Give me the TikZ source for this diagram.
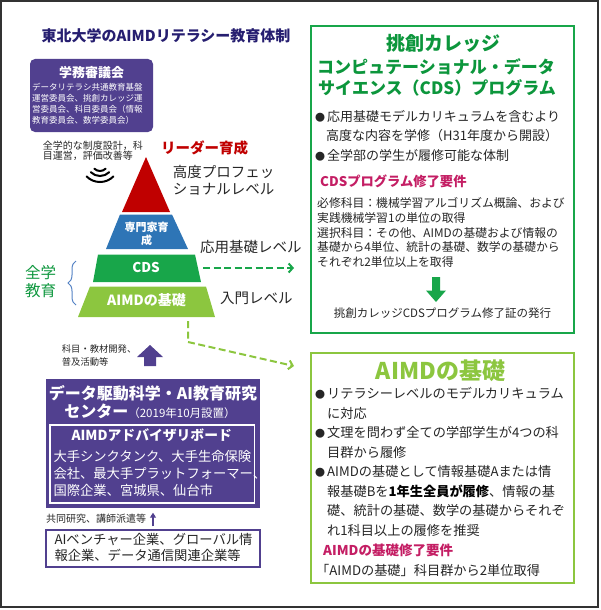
\documentclass[tikz,border=0pt]{standalone}
\usepackage{fontspec}
\setmainfont{Noto Sans CJK JP}
\usepackage{tikz}
\usetikzlibrary{positioning,calc,arrows.meta,decorations.pathreplacing}
\definecolor{aipurple}{RGB}{81,64,143}
\definecolor{ainavy}{RGB}{38,30,112}
\definecolor{aired}{RGB}{192,0,0}
\definecolor{aiblue}{RGB}{46,117,182}
\definecolor{aigreen}{RGB}{24,166,74}
\definecolor{aigreenT}{RGB}{12,150,60}
\definecolor{ailime}{RGB}{140,198,63}
\definecolor{aimagenta}{RGB}{196,30,100}
\definecolor{aitext}{RGB}{38,38,38}
\definecolor{aibrace}{RGB}{84,130,196}
\newcommand{\fsz}[2]{\fontsize{#1}{#2}\selectfont}
\newcommand{\blt}{{\fsz{10}{10}●}\hspace{2pt}}
\tikzset{
  txt/.style = {inner sep=0pt, align=left, anchor=west, text=aitext},
  ctxt/.style = {inner sep=0pt, align=center, text=aitext},
  wtxt/.style = {ctxt, text=white},
  fillbox/.style = {rectangle, fill=aipurple, inner sep=0pt},
  panel/.style = {rectangle, draw, fill=white, inner sep=0pt},
  dasharrow/.style = {line width=2pt, dash pattern=on 7pt off 3.5pt, -{Straight Barb[length=4pt,width=9pt]}},
  wave/.style = {line width=2pt, line cap=round}
}
\begin{document}
\begin{tikzpicture}[x=1pt,y=-1pt]
\useasboundingbox (0,0) rectangle (600,610);
\draw[line width=1.5pt, draw=black!80] (1,1) rectangle (598,607);

\node[ctxt, text=ainavy, font=\bfseries\fsz{15}{18}] (title) at (166,36) {東北大学のAIMDリテラシー教育体制};

\node[fillbox, rounded corners=5pt, minimum width=123pt, minimum height=73pt] (council) at (91.5,95.5) {};
\node[wtxt, font=\bfseries\fsz{13}{15}] (councilT) at (91.5,73) {学務審議会};
\node[txt, text=white, font=\fsz{8.5}{10.8}] (councilM) at (32,103.8) {データリテラシ共通教育基盤\\運営委員会、挑創カレッジ運\\営委員会、科目委員会（情報\\教育委員会、数学委員会）};
\node[txt, font=\fsz{10}{10.7}] (design) at (42.7,150.7) {全学的な制度設計，科\\目運営，評価改善等};
\foreach \r in {8,13,19}
  \draw[wave] (100,163) ++(45:\r) arc[start angle=45, end angle=135, radius=\r];

\fill[aired] (146,157) -- (170,212) -- (122,212) -- cycle;
\fill[aiblue] (120,214.5) -- (172,214.5) -- (188,249) -- (106,249) -- cycle;
\fill[aigreen] (98,254.5) -- (195,254.5) -- (201,282) -- (93,282) -- cycle;
\fill[ailime] (90,286.5) -- (206,286.5) -- (215,317) -- (78,317) -- cycle;
\node[wtxt, font=\bfseries\fsz{11}{12.3}] (expert) at (146.5,234) {専門家育\\成};
\node[wtxt, font=\bfseries\fsz{13.5}{15}] (cds) at (146,267) {CDS};
\node[wtxt, font=\bfseries\fsz{14}{16}] (basic) at (146.5,300) {AIMDの基礎};

\node[ctxt, text=aired, font=\bfseries\fsz{14.5}{16}] (leader) at (204.5,148) {リーダー育成};
\node[txt, font=\fsz{14.5}{16.7}] (prof) at (172.7,180.3) {高度プロフェッ\\ショナルレベル};
\node[txt, font=\fsz{14.5}{16}] (applied) at (200,247.5) {応用基礎レベル};
\node[txt, font=\fsz{14.5}{16}] (intro) at (220,298.5) {入門レベル};
\node[txt, text=aigreenT, font=\fsz{15.5}{18}] (allstud) at (25,282) {全学\\教育};
\draw[aibrace, line width=1pt, decorate, decoration={brace, amplitude=8pt}] (76,305) -- (76,261);

\coordinate (cdsEdge) at (203,268);
\coordinate (basicEdge) at (188,321);
\coordinate (basicTurn) at (188,342);
\coordinate (aimdTip) at (294,366);

\fill[aipurple] (144,366) -- (144,357) -- (137,357) -- (150,345) -- (163,357) -- (156,357) -- (156,366) -- cycle;
\node[txt, font=\fsz{9.3}{13}] (develop) at (61.7,355.8) {科目・教材開発、\\普及活動等};

\node[fillbox, minimum width=214pt, minimum height=129pt] (center) at (153,443.5) {};
\node[wtxt, font=\bfseries\fsz{16}{18}] (centerT) at (153,393.3) {データ駆動科学・AI教育研究};
\node[wtxt, font=\bfseries\fsz{16}{18}] (centerT2) at (150,411.7) {センター{\mdseries\fsz{11.5}{13}（2019年10月設置）}};
\node[draw=white, line width=1.5pt, minimum width=204.5pt, minimum height=78pt, inner sep=0pt] (board) at (152.25,464) {};
\node[wtxt, font=\bfseries\fsz{13.8}{15}] (boardT) at (151.7,435) {AIMDアドバイザリボード};
\node[txt, text=white, font=\fsz{13.3}{16.7}] (boardM) at (53.3,473.3) {大手シンクタンク、大手生命保険\\会社、最大手プラットフォーマー、\\国際企業、宮城県、仙台市};

\node[txt, font=\fsz{10}{12}] (joint) at (46,519) {共同研究、講師派遣等};
\node[panel, draw=aipurple, line width=1.5pt, minimum width=214pt, minimum height=37pt] (partner) at (153,548.5) {};
\draw[aipurple, line width=1.5pt, -{Triangle[length=5pt,width=6pt]}] ([yshift=3pt]partner.north) -- ([yshift=-4.5pt]center.south);
\node[txt, font=\fsz{13.3}{15.7}] (partnerM) at (54.3,547.2) {AIベンチャー企業、グローバル情\\報企業、データ通信関連企業等};

\node[panel, draw=aigreen, line width=2pt, minimum width=263pt, minimum height=307pt] (cdsbox) at (442.5,179.5) {};
\node[ctxt, text=aigreenT, font=\bfseries\fsz{19}{21}] (cdsT1) at (443,43.5) {挑創カレッジ};
\node[ctxt, text=aigreenT, font=\bfseries\fsz{17}{19}] (cdsT2) at (436,67) {コンピュテーショナル・データ};
\node[ctxt, text=aigreenT, font=\bfseries\fsz{17}{19}] (cdsT3) at (437,87.5) {サイエンス（CDS）プログラム};
\node[txt, font=\fsz{13}{19.5}] (cdsB) at (315,135.5) {\blt 応用基礎モデルカリキュラムを含むより\\\hspace*{11pt}高度な内容を学修（H31年度から開設）\\\blt 全学部の学生が履修可能な体制};
\node[txt, text=aimagenta, font=\bfseries\fsz{13.3}{15}] (cdsReq) at (320,181) {CDSプログラム修了要件};
\node[txt, font=\fsz{11.8}{14.6}] (cdsReqM) at (317,232.5) {必修科目：機械学習アルゴリズム概論、および\\実践機械学習1の単位の取得\\選択科目：その他、AIMDの基礎および情報の\\基礎から4単位、統計の基礎、数学の基礎から\\それぞれ2単位以上を取得};
\fill[aigreen] (432,277) -- (440,277) -- (440,290.5) -- (446,290.5) -- (436,302) -- (426,290.5) -- (432,290.5) -- cycle;
\node[ctxt, font=\fsz{11.5}{13}] (cert) at (442.5,313.3) {挑創カレッジCDSプログラム修了証の発行};

\node[panel, draw=ailime, line width=2pt, minimum width=263pt, minimum height=230pt] (aimdbox) at (442.5,468) {};
\node[ctxt, text=ailime, font=\bfseries\fsz{23}{25}] (aimdT) at (440.5,371) {AIMDの基礎};
\node[txt, font=\fsz{13.2}{19.5}] (aimdB) at (315,461.7) {\blt リテラシーレベルのモデルカリキュラム\\\hspace*{12pt}に対応\\\blt 文理を問わず全ての学部学生が4つの科\\\hspace*{12pt}目群から履修\\\blt AIMDの基礎として情報基礎Aまたは情\\\hspace*{12pt}報基礎Bを\textcolor{black}{\bfseries 1年生全員が履修}、情報の基\\\hspace*{12pt}礎、統計の基礎、数学の基礎からそれぞ\\\hspace*{12pt}れ1科目以上の履修を推奨};
\node[txt, text=aimagenta, font=\bfseries\fsz{13.5}{15}] (aimdReq) at (323,550) {AIMDの基礎修了要件};
\node[txt, font=\fsz{13.2}{15}] (aimdReqM) at (316,570) {「AIMDの基礎」科目群から2単位取得};

\draw[dasharrow, aigreen] (cdsEdge) -- ($(cdsbox.west |- cdsEdge)+(-16,0)$);
\draw[dasharrow, ailime] (basicEdge) -- (basicTurn) -- (aimdTip);
\end{tikzpicture}
\end{document}
